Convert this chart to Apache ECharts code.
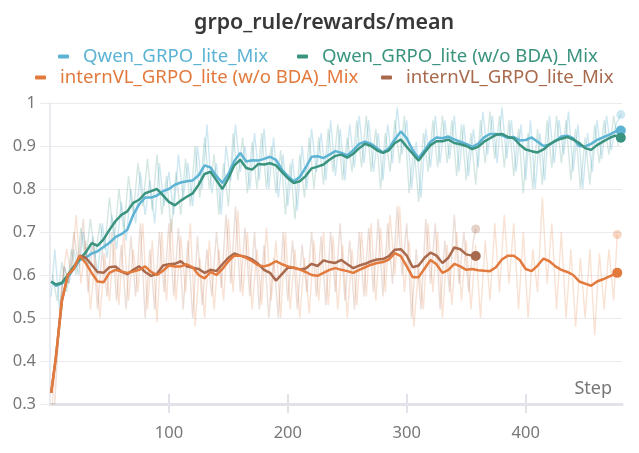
<!DOCTYPE html>
<html lang="en">
<head>
    <meta charset="utf-8">
    <title>grpo_rule/rewards/mean</title>
    <script src="https://cdn.jsdelivr.net/npm/echarts@6/dist/echarts.min.js"></script>
    <style>
        html, body { margin: 0; background: #fff; }
        #main { width: 639px; height: 453px; }
    </style>
</head>
<body>
<div id="main"></div>
<script>
    // series names
    var nameQwen = 'Qwen_GRPO_lite_Mix';
    var nameQwenNoBda = 'Qwen_GRPO_lite (w/o BDA)_Mix';
    var nameInternNoBda = 'internVL_GRPO_lite (w/o BDA)_Mix';
    var nameIntern = 'internVL_GRPO_lite_Mix';

    var yTicks = [0.3, 0.4, 0.5, 0.6, 0.7, 0.8, 0.9, 1];
    var xTicks = [100, 200, 300, 400];

    // smoothed curves, read every 5 steps
    var qwenSmooth = [
        0.585,0.575,0.58,0.595,0.615,0.635,0.64,0.65,0.655,0.665,
        0.675,0.688,0.695,0.705,0.74,0.765,0.78,0.78,0.785,0.795,
        0.80,0.81,0.815,0.818,0.82,0.832,0.855,0.85,0.83,0.814,
        0.835,0.865,0.884,0.864,0.867,0.866,0.87,0.875,0.868,0.845,
        0.83,0.818,0.828,0.85,0.875,0.876,0.872,0.88,0.888,0.884,
        0.878,0.89,0.905,0.91,0.905,0.895,0.885,0.895,0.915,0.934,
        0.918,0.89,0.872,0.89,0.91,0.92,0.918,0.922,0.915,0.91,
        0.905,0.898,0.905,0.92,0.928,0.928,0.925,0.919,0.921,0.913,
        0.914,0.92,0.91,0.90,0.903,0.912,0.922,0.924,0.918,0.90,
        0.899,0.905,0.914,0.92,0.926,0.933,0.936
    ];
    var qwenNoBdaSmooth = [
        0.585,0.578,0.582,0.60,0.62,0.638,0.652,0.674,0.668,0.683,
        0.705,0.725,0.74,0.748,0.768,0.775,0.79,0.795,0.80,0.785,
        0.77,0.762,0.773,0.782,0.79,0.81,0.835,0.84,0.82,0.80,
        0.825,0.855,0.868,0.849,0.845,0.858,0.857,0.86,0.855,0.84,
        0.825,0.814,0.818,0.83,0.848,0.852,0.857,0.868,0.877,0.88,
        0.873,0.882,0.895,0.905,0.90,0.89,0.884,0.89,0.907,0.915,
        0.898,0.882,0.866,0.885,0.902,0.911,0.911,0.915,0.907,0.904,
        0.90,0.893,0.898,0.91,0.918,0.926,0.928,0.921,0.918,0.903,
        0.892,0.888,0.885,0.892,0.904,0.912,0.917,0.921,0.915,0.907,
        0.895,0.891,0.902,0.91,0.918,0.924,0.919
    ];
    var internNoBdaSmooth = [
        0.326,0.41,0.54,0.60,0.615,0.645,0.628,0.605,0.585,0.583,
        0.605,0.612,0.608,0.605,0.608,0.612,0.62,0.607,0.60,0.61,
        0.622,0.62,0.62,0.625,0.618,0.60,0.592,0.607,0.60,0.614,
        0.632,0.645,0.645,0.64,0.632,0.623,0.62,0.624,0.632,0.625,
        0.62,0.617,0.613,0.607,0.60,0.598,0.605,0.612,0.616,0.612,
        0.609,0.605,0.612,0.618,0.624,0.628,0.63,0.636,0.651,0.644,
        0.62,0.595,0.595,0.615,0.635,0.625,0.605,0.612,0.626,0.62,
        0.612,0.614,0.611,0.61,0.609,0.618,0.636,0.645,0.645,0.635,
        0.614,0.609,0.622,0.638,0.632,0.62,0.612,0.607,0.60,0.585,
        0.58,0.575,0.585,0.59,0.596,0.602,0.605
    ];
    var internSmooth = [
        0.326,0.41,0.54,0.60,0.615,0.645,0.64,0.624,0.607,0.605,
        0.618,0.62,0.608,0.602,0.612,0.62,0.607,0.598,0.603,0.622,
        0.625,0.626,0.632,0.62,0.617,0.614,0.605,0.612,0.609,0.625,
        0.64,0.65,0.645,0.642,0.636,0.626,0.612,0.605,0.587,0.602,
        0.617,0.617,0.613,0.615,0.626,0.621,0.634,0.63,0.628,0.635,
        0.625,0.616,0.622,0.626,0.632,0.636,0.637,0.644,0.659,0.66,
        0.645,0.618,0.622,0.64,0.652,0.645,0.628,0.64,0.664,0.66,
        0.648,0.645,0.644
    ];

    // raw (unsmoothed) values, read every 4 steps
    var qwenRaw = [
        0.55,0.66,0.52,0.62,0.58,0.66,0.6,0.7,0.62,0.69,
        0.6,0.72,0.64,0.74,0.66,0.77,0.68,0.8,0.72,0.84,
        0.74,0.82,0.72,0.86,0.76,0.84,0.74,0.88,0.78,0.86,
        0.76,0.9,0.8,0.95,0.79,0.86,0.74,0.9,0.82,0.95,
        0.84,0.9,0.8,0.93,0.82,0.94,0.8,0.92,0.78,0.88,
        0.76,0.87,0.75,0.9,0.8,0.94,0.84,0.93,0.82,0.96,
        0.83,0.94,0.82,0.95,0.85,0.97,0.86,0.96,0.84,0.93,
        0.82,0.95,0.86,0.99,0.88,0.96,0.8,0.91,0.78,0.94,
        0.85,0.97,0.86,0.96,0.87,0.97,0.84,0.95,0.83,0.94,
        0.85,0.98,0.88,0.97,0.86,0.99,0.87,0.96,0.84,0.95,
        0.82,0.96,0.8,0.93,0.82,0.97,0.86,0.96,0.88,0.98,
        0.84,0.95,0.8,0.93,0.84,0.96,0.87,0.97,0.89,0.95,
        0.973
    ];
    var qwenNoBdaRaw = [
        0.6,0.54,0.63,0.56,0.66,0.6,0.71,0.63,0.73,0.64,
        0.72,0.66,0.78,0.68,0.8,0.7,0.83,0.74,0.86,0.76,
        0.87,0.75,0.88,0.74,0.83,0.7,0.84,0.74,0.87,0.76,
        0.9,0.78,0.92,0.8,0.88,0.74,0.86,0.76,0.93,0.82,
        0.92,0.79,0.91,0.8,0.93,0.8,0.9,0.79,0.89,0.74,
        0.86,0.73,0.88,0.78,0.92,0.8,0.92,0.81,0.94,0.84,
        0.95,0.82,0.92,0.84,0.96,0.85,0.97,0.84,0.94,0.8,
        0.93,0.84,0.96,0.86,0.97,0.79,0.9,0.77,0.93,0.84,
        0.96,0.85,0.97,0.86,0.96,0.83,0.95,0.82,0.93,0.81,
        0.96,0.86,0.98,0.87,0.97,0.85,0.96,0.83,0.94,0.79,
        0.93,0.8,0.94,0.81,0.96,0.85,0.97,0.86,0.96,0.82,
        0.94,0.8,0.92,0.81,0.95,0.86,0.96,0.88,0.97,0.9
    ];
    var internNoBdaRaw = [
        0.3,0.44,0.58,0.66,0.6,0.74,0.58,0.68,0.52,0.64,
        0.5,0.65,0.54,0.68,0.53,0.7,0.54,0.66,0.56,0.72,
        0.52,0.68,0.49,0.7,0.54,0.73,0.54,0.69,0.56,0.72,
        0.48,0.64,0.5,0.68,0.52,0.66,0.54,0.73,0.56,0.75,
        0.55,0.7,0.52,0.66,0.53,0.71,0.54,0.68,0.5,0.7,
        0.52,0.66,0.5,0.64,0.51,0.68,0.54,0.7,0.53,0.69,
        0.52,0.67,0.5,0.66,0.53,0.7,0.55,0.72,0.54,0.71,
        0.56,0.74,0.6,0.76,0.56,0.68,0.48,0.62,0.52,0.72,
        0.56,0.7,0.5,0.67,0.53,0.7,0.54,0.68,0.52,0.67,
        0.5,0.68,0.54,0.72,0.56,0.74,0.58,0.72,0.52,0.7,
        0.5,0.66,0.56,0.78,0.58,0.72,0.52,0.7,0.5,0.66,
        0.48,0.64,0.5,0.66,0.46,0.65,0.52,0.66,0.54,0.694
    ];
    var internRaw = [
        0.3,0.3,0.5,0.62,0.58,0.7,0.62,0.73,0.56,0.68,
        0.52,0.66,0.55,0.7,0.54,0.67,0.52,0.69,0.55,0.72,
        0.5,0.66,0.52,0.7,0.56,0.72,0.55,0.71,0.52,0.68,
        0.5,0.69,0.53,0.66,0.55,0.7,0.57,0.74,0.58,0.76,
        0.56,0.71,0.55,0.7,0.52,0.67,0.5,0.64,0.5,0.7,
        0.54,0.68,0.52,0.67,0.56,0.7,0.55,0.69,0.53,0.7,
        0.56,0.72,0.54,0.68,0.52,0.7,0.55,0.71,0.56,0.73,
        0.55,0.72,0.58,0.76,0.6,0.72,0.5,0.66,0.52,0.73,
        0.58,0.72,0.52,0.68,0.56,0.74,0.58,0.7,0.56,0.68,
        0.707
    ];

    // step grid the values were read on: first logged step, then every `every` steps, then the last logged step
    function stepGrid(first, every, last, offset) {
        var s = [first];
        for (var v = (offset || 0) + every; v < last; v += every) {
            if (v > first) s.push(v);
        }
        s.push(last);
        return s;
    }
    function pairs(steps, vals) {
        var out = [];
        for (var i = 0; i < Math.min(steps.length, vals.length); i++) out.push([steps[i], vals[i]]);
        return out;
    }

    var colQwen = '#5cb3d4', colQwenNoBda = '#3a937e', colInternNoBda = '#e37a3d', colIntern = '#a8694c';
    var font = 'Noto Sans';

    function rawLine(name, data, color, op) {
        return {
            name: name, type: 'line', data: data, symbol: 'none', z: 1,
            lineStyle: { color: color, width: 1.4, opacity: op }, itemStyle: { color: color },
            emphasis: { disabled: true }
        };
    }
    function smoothLine(name, data, color) {
        return {
            name: name, type: 'line', data: data, symbol: 'none', z: 3,
            lineStyle: { color: color, width: 2.5 }, itemStyle: { color: color },
            emphasis: { disabled: true }
        };
    }
    function endDot(name, data, color, size, op, z) {
        return {
            name: name, type: 'scatter', data: [data[data.length - 1]], z: z,
            symbolSize: size, itemStyle: { color: color, opacity: op },
            emphasis: { disabled: true }
        };
    }
    // one legend per item so every entry sits where it does in the panel
    function legendAt(name, color, left, top) {
        return {
            left: left, top: top, padding: 0, itemWidth: 11, itemHeight: 4,
            data: [{ name: name, icon: 'roundRect', itemStyle: { color: color },
                     textStyle: { color: color, fontFamily: font, fontSize: 18.6, padding: [0, 0, 0, 9] } }]
        };
    }

    var dQwenRaw = pairs(stepGrid(1, 4, 480), qwenRaw);
    var dQwenNoBdaRaw = pairs(stepGrid(2, 4, 478, 2), qwenNoBdaRaw);
    var dInternNoBdaRaw = pairs(stepGrid(2, 4, 477, 2), internNoBdaRaw);
    var dInternRaw = pairs(stepGrid(1, 4, 358), internRaw);
    var dQwen = pairs(stepGrid(1, 5, 480), qwenSmooth);
    var dQwenNoBda = pairs(stepGrid(1, 5, 480), qwenNoBdaSmooth);
    var dInternNoBda = pairs(stepGrid(1, 5, 477), internNoBdaSmooth);
    var dIntern = pairs(stepGrid(1, 5, 358), internSmooth);

    var chartDom = document.getElementById('main');
    var myChart = echarts.init(chartDom);
    var option;

    option = {
        backgroundColor: '#fff',
        animation: false,
        title: {
            text: 'grpo_rule/rewards/mean',
            left: 194, top: 12, padding: 0,
            textStyle: { fontFamily: font, fontSize: 21.4, fontWeight: 600, color: '#383838' }
        },
        legend: [
            legendAt(nameQwen, colQwen, 58, 47),
            legendAt(nameQwenNoBda, colQwenNoBda, 297, 47),
            legendAt(nameInternNoBda, colInternNoBda, 35, 68),
            legendAt(nameIntern, colIntern, 381, 68)
        ],
        grid: { left: 50, right: 17, top: 103, bottom: 49 },
        xAxis: [
            {
                type: 'value', min: 0, max: 481,
                name: 'Step', nameLocation: 'end', nameGap: -10,
                nameTextStyle: { fontFamily: font, fontSize: 18, color: '#777', align: 'right', verticalAlign: 'bottom', padding: [0, 0, 6, 0] },
                axisLine: { lineStyle: { color: '#e2e2e8', width: 3 } },
                axisTick: { show: true, length: 9, lineStyle: { color: '#e2e2e8', width: 2 },
                            customValues: xTicks },
                axisLabel: { fontFamily: font, fontSize: 16.5, color: '#777', margin: 21, customValues: xTicks },
                splitLine: { show: false }
            },
            {
                type: 'value', min: 0, max: 481, position: 'bottom',
                axisLine: { show: false },
                axisTick: { show: true, inside: true, length: 10, lineStyle: { color: '#e2e2e8', width: 2 },
                            customValues: xTicks },
                axisLabel: { show: false },
                splitLine: { show: false }
            }
        ],
        yAxis: {
            type: 'value', min: 0.3, max: 1, interval: 0.1,
            axisLine: { show: true, lineStyle: { color: '#ebebef', width: 2 } },
            axisTick: { show: true, length: 10, lineStyle: { color: '#ebebef' } },
            axisLabel: { fontFamily: font, fontSize: 16.5, color: '#777', margin: 14,
                         formatter: function (v) { return String(Math.round(v * 10) / 10); } },
            splitLine: { lineStyle: { color: '#ebebef' } }
        },
        series: [
            rawLine(nameQwen, dQwenRaw, colQwen, 0.3),
            rawLine(nameQwenNoBda, dQwenNoBdaRaw, colQwenNoBda, 0.22),
            rawLine(nameInternNoBda, dInternNoBdaRaw, colInternNoBda, 0.22),
            rawLine(nameIntern, dInternRaw, colIntern, 0.22),
            smoothLine(nameQwen, dQwen, colQwen),
            smoothLine(nameQwenNoBda, dQwenNoBda, colQwenNoBda),
            smoothLine(nameIntern, dIntern, colIntern),
            smoothLine(nameInternNoBda, dInternNoBda, colInternNoBda),
            endDot(nameQwen, dQwenRaw, colQwen, 9, 0.3, 2),
            endDot(nameInternNoBda, dInternNoBdaRaw, colInternNoBda, 9, 0.3, 2),
            endDot(nameIntern, dInternRaw, colIntern, 9, 0.3, 2),
            endDot(nameQwen, dQwen, colQwen, 10, 1, 4),
            endDot(nameQwenNoBda, dQwenNoBda, colQwenNoBda, 10, 1, 4),
            endDot(nameIntern, dIntern, colIntern, 10, 1, 4),
            endDot(nameInternNoBda, dInternNoBda, colInternNoBda, 10, 1, 4)
        ]
    };

    myChart.setOption(option);
    window.onresize = myChart.resize;
</script>
</body>
</html>
